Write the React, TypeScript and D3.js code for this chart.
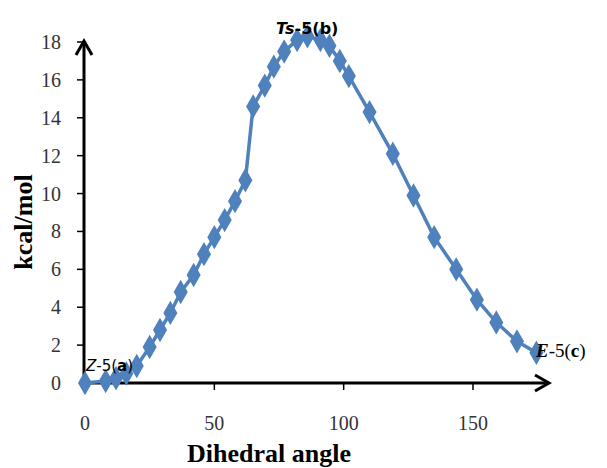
import React, { useEffect, useRef } from 'react';
import * as d3 from 'd3';

// dihedral angle (deg) vs relative energy (kcal/mol)
const angles = [0, 8, 12, 16, 20, 25, 29, 33, 37, 42, 46, 50, 54, 58, 62, 65, 69.5, 73, 77, 82, 86, 91, 94.5, 98.5, 102, 110, 119, 127, 135, 143.5, 151.5, 159, 167, 174.5];
const energies = [0, 0.1, 0.25, 0.5, 0.9, 1.9, 2.8, 3.7, 4.8, 5.7, 6.8, 7.7, 8.6, 9.6, 10.7, 14.6, 15.7, 16.7, 17.5, 18.1, 18.3, 18.1, 17.8, 17.0, 16.2, 14.3, 12.1, 9.9, 7.7, 6.0, 4.4, 3.2, 2.2, 1.6];
const xTicks = [0, 50, 100, 150];
const yTicks = [0, 2, 4, 6, 8, 10, 12, 14, 16, 18];

const W = 607;
const H = 468;

const App = () => {
  const ref = useRef<SVGSVGElement>(null);

  useEffect(() => {
    const svg = d3.select(ref.current);
    svg.selectAll('*').remove();

    const x = d3.scaleLinear().domain([0, 150]).range([85, 473]);
    const y = d3.scaleLinear().domain([0, 18]).range([383, 42]);
    const serif = 'Liberation Serif, Times New Roman, serif';

    // axes lines with open arrowheads
    const axes = svg.append('g').attr('stroke', '#000').attr('stroke-width', 3).attr('fill', 'none');
    axes.append('line').attr('x1', 84).attr('y1', 384).attr('x2', 84).attr('y2', 41);
    axes.append('path').attr('d', 'M76,55 L84,41 L92,55');
    axes.append('line').attr('x1', 83).attr('y1', 383).attr('x2', 549).attr('y2', 383);
    axes.append('path').attr('d', 'M535,375 L549,383 L535,391');

    // ticks
    const ticks = svg.append('g').attr('stroke', '#000').attr('stroke-width', 1.5);
    yTicks.filter(d => d > 0).forEach(d => {
      ticks.append('line').attr('x1', 77).attr('x2', 84).attr('y1', y(d)).attr('y2', y(d));
    });
    xTicks.filter(d => d > 0).forEach(d => {
      ticks.append('line').attr('x1', x(d)).attr('x2', x(d)).attr('y1', 383).attr('y2', 390);
    });

    // tick labels
    svg.append('g').selectAll('text').data(yTicks).enter().append('text')
      .attr('x', 61).attr('y', d => y(d) + 7)
      .attr('text-anchor', 'end')
      .attr('font-family', serif).attr('font-size', 20).attr('fill', '#333')
      .text(d => d);
    svg.append('g').selectAll('text').data(xTicks).enter().append('text')
      .attr('x', d => x(d)).attr('y', 430)
      .attr('text-anchor', 'middle')
      .attr('font-family', serif).attr('font-size', 20).attr('fill', '#333')
      .text(d => d);

    // axis titles
    svg.append('text')
      .attr('x', 269).attr('y', 462).attr('text-anchor', 'middle')
      .attr('font-family', serif).attr('font-size', 26).attr('font-weight', 'bold')
      .text('Dihedral angle');
    svg.append('text')
      .attr('transform', 'translate(32,222) rotate(-90)').attr('text-anchor', 'middle')
      .attr('font-family', serif).attr('font-size', 26).attr('font-weight', 'bold')
      .text('kcal/mol');

    // the curve
    const pts: [number, number][] = angles.map((a, i) => [a, energies[i]]);
    const line = d3.line<[number, number]>().x(d => x(d[0])).y(d => y(d[1]));
    svg.append('path').datum(pts)
      .attr('d', line)
      .attr('fill', 'none').attr('stroke', '#4F81BD').attr('stroke-width', 3.5);
    const diamond = d3.symbol().type(d3.symbolDiamond).size(120);
    svg.append('g').selectAll('path').data(pts).enter().append('path')
      .attr('d', diamond)
      .attr('transform', d => `translate(${x(d[0])},${y(d[1])})`)
      .attr('fill', '#4F81BD').attr('stroke', '#4F81BD').attr('stroke-width', 2);

    // point labels
    const ts = svg.append('text').attr('x', 276).attr('y', 34)
      .attr('font-family', 'DejaVu Sans, sans-serif').attr('font-size', 16).attr('font-weight', 'bold');
    ts.append('tspan').attr('font-style', 'italic').text('Ts');
    ts.append('tspan').text('-5(b)');

    const z = svg.append('text').attr('x', 86).attr('y', 371)
      .attr('font-family', 'DejaVu Sans, sans-serif').attr('font-size', 15);
    z.append('tspan').attr('font-style', 'italic').text('Z');
    z.append('tspan').text('-5(');
    z.append('tspan').attr('font-weight', 'bold').text('a');
    z.append('tspan').text(')');

    const e = svg.append('text').attr('x', 536).attr('y', 357)
      .attr('font-family', serif).attr('font-size', 19);
    e.append('tspan').attr('font-style', 'italic').attr('font-weight', 'bold').text('E');
    e.append('tspan').text('-5(');
    e.append('tspan').attr('font-weight', 'bold').text('c');
    e.append('tspan').text(')');
  }, []);

  return (
    <svg ref={ref} width={W} height={H}
      style={{ position: 'absolute', left: 0, top: 0, background: '#fff' }} />
  );
};

export default App;
